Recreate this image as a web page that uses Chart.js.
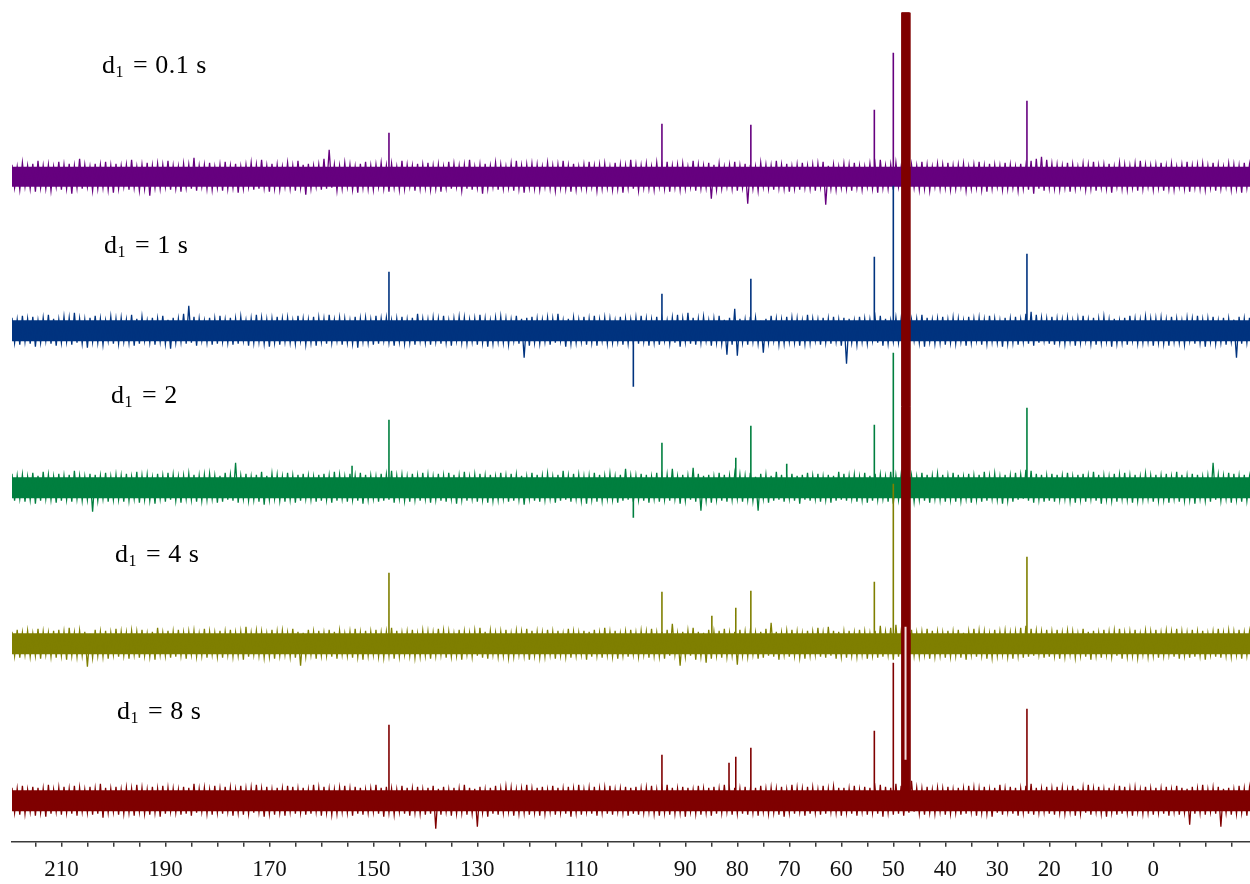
<!DOCTYPE html>
<html>
<head>
<meta charset="utf-8">
<script src="https://cdn.jsdelivr.net/npm/chart.js@4.4.1/dist/chart.umd.min.js"></script>
<style>
html, body { margin: 0; padding: 0; background: #fff; }
#wrap { width: 1250px; height: 884px; position: relative; }
</style>
</head>
<body>
<div id="wrap"><canvas id="nmrChart"></canvas></div>
<script>
// delay times written next to each trace
const delayLabels = ['0.1 s', '1 s', '2', '4 s', '8 s']

// x axis labels (ppm)
const tickLabels = [210, 190, 170, 150, 130, 110, 90, 80, 70, 60, 50, 40, 30, 20, 10, 0]

// noise traces: the trace swings between an upper and a lower extreme once per ppm, from 219.5 ppm down
const noiseStart = 219.5
// half height of the dense, solid part of the noise band
const noiseCore = [10, 10.5, 10.5, 10.5, 10.5]

const purpleUpper = [
	12,10,14,11,13,16,11,12,10,15,12,13,11,18,12,10,13,12,15,11,
	13,11,12,17,10,12,14,11,13,12,16,11,10,13,12,19,11,12,14,10,
	12,15,11,13,10,12,14,12,17,11,13,12,10,14,11,16,12,13,11,12,
	18,27,12,11,14,12,10,13,15,11,12,14,11,13,10,16,12,11,13,12,
	14,11,12,10,15,13,11,12,17,10,12,13,11,14,12,10,13,16,11,12,
	13,12,10,14,11,12,16,11,13,10,12,15,11,12,13,10,14,12,11,17,
	12,11,13,10,14,12,15,11,12,13,10,16,12,11,14,12,13,10,12,15,
	11,13,12,10,14,12,11,16,12,13,10,12,14,11,12,13,15,11,12,10,
	13,12,14,11,10,13,12,17,11,12,14,10,13,12,11,15,12,10,13,12,
	14,11,12,13,10,12,15,11,13,12,11,14,12,10,13,11,16,18,20,17,
	13,12,11,14,12,10,13,12,15,11,12,13,10,14,12,11,13,16,12,11,
	12,14,11,13,10,12,15,11,12,13,11,14,12,10,13,12,11,14,12,13]
const purpleLower = [
	-11,-13,-10,-12,-15,-11,-12,-14,-10,-13,-12,-17,-11,-12,-10,-14,-12,-11,-13,-16,
	-12,-10,-13,-11,-14,-12,-19,-11,-12,-10,-13,-12,-15,-11,-12,-14,-10,-12,-13,-11,
	-14,-12,-11,-16,-12,-10,-13,-12,-11,-15,-12,-13,-10,-12,-14,-11,-18,-12,-10,-13,
	-12,-11,-14,-12,-10,-13,-16,-11,-12,-13,-10,-12,-15,-11,-13,-12,-10,-14,-12,-11,
	-13,-12,-15,-11,-12,-10,-14,-12,-13,-11,-17,-12,-10,-13,-12,-11,-14,-12,-16,-11,
	-12,-13,-10,-12,-14,-11,-12,-15,-13,-11,-12,-10,-14,-12,-11,-13,-12,-16,-11,-12,
	-14,-11,-12,-13,-10,-12,-15,-11,-13,-12,-10,-14,-12,-11,-22,-13,-12,-10,-12,-14,
	-11,-27,-12,-14,-10,-12,-13,-11,-12,-15,-12,-13,-11,-12,-14,-10,-28,-12,-13,-11,
	-12,-14,-11,-13,-10,-12,-16,-11,-12,-13,-10,-12,-15,-11,-13,-12,-14,-10,-12,-11,
	-13,-12,-10,-14,-12,-11,-13,-15,-12,-10,-13,-12,-11,-14,-12,-13,-17,-12,-14,-11,
	-12,-13,-11,-15,-12,-10,-13,-12,-14,-11,-12,-16,-10,-12,-13,-11,-14,-12,-10,-13,
	-11,-14,-12,-13,-10,-12,-15,-11,-12,-13,-11,-14,-12,-10,-13,-12,-16,-11,-12,-13]

const blueUpper = [
	13,11,15,12,14,10,13,16,12,11,14,13,18,12,11,13,15,12,10,14,
	12,13,11,16,12,14,10,13,12,15,11,13,12,17,25,14,12,10,13,12,
	15,11,13,12,14,10,12,16,13,11,12,14,12,13,10,15,12,11,14,13,
	12,16,11,13,12,10,14,12,13,11,15,12,13,10,12,14,11,13,17,12,
	11,13,12,15,10,12,14,13,11,12,16,12,10,13,14,12,11,15,12,13,
	14,12,11,13,12,17,10,12,13,11,14,12,15,11,13,12,10,14,12,11,
	13,15,12,11,14,12,10,13,16,12,18,13,12,14,10,12,15,11,13,22,
	12,11,14,13,10,12,15,12,11,14,13,12,10,16,12,11,13,12,14,11,
	13,12,10,14,12,11,13,15,12,10,13,12,14,11,12,16,13,11,12,14,
	11,13,12,10,14,12,13,11,15,12,10,13,12,14,11,17,19,16,13,12,
	14,12,11,13,10,12,15,11,13,12,14,11,12,10,13,15,12,11,14,12,
	12,13,11,14,12,10,13,12,15,11,12,14,10,13,12,11,14,12,13,11]
const blueLower = [
	-12,-14,-11,-13,-16,-12,-10,-13,-15,-12,-11,-14,-12,-13,-17,-11,-12,-14,-10,-13,
	-13,-11,-12,-15,-13,-10,-12,-14,-11,-13,-18,-12,-11,-13,-12,-15,-10,-12,-14,-13,
	-11,-12,-14,-13,-10,-15,-12,-11,-13,-16,-12,-14,-11,-12,-13,-10,-14,-12,-15,-11,
	-13,-12,-10,-14,-12,-13,-17,-11,-12,-14,-13,-10,-12,-15,-11,-13,-12,-14,-10,-12,
	-14,-11,-13,-12,-15,-10,-12,-13,-11,-14,-12,-16,-13,-11,-12,-14,-10,-13,-27,-15,
	-12,-13,-11,-14,-12,-10,-16,-13,-12,-11,-14,-12,-15,-10,-13,-12,-11,-14,-13,-12,
	-13,-11,-15,-12,-14,-10,-13,-12,-16,-11,-13,-14,-12,-10,-15,-12,-13,-24,-14,-25,
	-12,-14,-11,-13,-22,-12,-10,-14,-13,-11,-12,-15,-13,-12,-10,-14,-12,-13,-11,-15,
	-33,-12,-14,-11,-13,-10,-12,-15,-13,-11,-12,-14,-13,-10,-12,-16,-11,-13,-12,-14,
	-12,-13,-11,-15,-12,-10,-14,-13,-11,-12,-16,-13,-12,-14,-11,-13,-15,-12,-10,-13,
	-14,-12,-13,-11,-15,-12,-10,-13,-14,-12,-11,-16,-13,-12,-14,-10,-13,-12,-11,-15,
	-12,-13,-15,-11,-12,-14,-10,-13,-12,-16,-11,-13,-12,-14,-11,-27,-13,-12,-14,-12]

const greenUpper = [
	14,12,13,11,15,12,16,13,11,14,12,13,17,12,11,14,13,12,15,11,
	13,12,14,11,16,12,13,10,14,12,15,13,11,12,14,13,12,13,14,12,
	12,15,13,25,12,14,11,13,16,12,14,13,11,15,12,13,14,12,11,13,
	14,12,16,13,11,14,12,15,13,12,11,14,13,17,12,13,11,14,12,15,
	13,11,14,12,15,13,12,16,11,13,14,12,13,11,15,12,14,13,12,11,
	15,13,12,14,11,13,17,12,14,13,11,12,15,13,12,14,11,13,19,12,
	12,14,13,11,15,12,13,19,11,13,12,20,14,12,13,11,15,13,12,14,
	13,12,15,11,14,13,12,16,13,11,14,12,13,15,12,14,11,13,12,16,
	14,12,13,11,15,12,14,13,11,16,12,13,14,12,11,15,13,12,14,13,
	12,15,13,11,14,12,13,16,12,14,11,13,12,15,13,18,17,14,13,12,
	14,13,12,15,11,13,14,12,16,13,12,11,14,13,15,12,13,11,14,12,
	13,12,14,11,16,13,12,14,13,11,12,25,13,12,15,14,12,13,11,14]
const greenLower = [
	-13,-11,-14,-12,-16,-13,-11,-12,-15,-13,-12,-14,-11,-13,-12,-24,-13,-11,-14,-12,
	-12,-14,-13,-11,-15,-12,-13,-16,-11,-14,-12,-13,-15,-11,-12,-14,-13,-12,-11,-15,
	-14,-12,-13,-15,-11,-13,-12,-14,-17,-12,-11,-13,-14,-12,-15,-13,-11,-12,-14,-13,
	-12,-15,-13,-11,-14,-12,-13,-16,-12,-11,-14,-13,-12,-15,-11,-13,-14,-12,-13,-11,
	-15,-12,-13,-14,-11,-16,-12,-13,-11,-14,-12,-15,-13,-12,-11,-14,-13,-12,-17,-11,
	-13,-14,-12,-11,-15,-13,-12,-14,-11,-13,-16,-12,-14,-13,-11,-12,-15,-13,-12,-14,
	-12,-13,-15,-11,-14,-12,-13,-11,-16,-13,-12,-14,-23,-13,-15,-12,-13,-14,-12,-11,
	-14,-12,-13,-23,-11,-15,-13,-12,-14,-11,-13,-16,-12,-13,-11,-14,-12,-15,-13,-12,
	-13,-11,-14,-12,-15,-13,-12,-11,-14,-16,-12,-13,-11,-14,-12,-13,-15,-11,-12,-14,
	-12,-14,-13,-11,-15,-12,-14,-13,-11,-12,-16,-13,-14,-12,-11,-13,-15,-12,-14,-13,
	-14,-12,-11,-13,-15,-12,-14,-11,-13,-16,-12,-13,-14,-11,-12,-15,-13,-12,-11,-14,
	-13,-12,-15,-11,-14,-13,-12,-16,-11,-13,-14,-12,-13,-11,-15,-12,-14,-13,-12,-11]

const oliveUpper = [
	12,14,11,13,10,15,12,11,13,14,12,16,11,13,12,10,14,12,13,11,
	15,12,11,13,12,14,10,12,16,11,13,12,14,11,12,13,10,15,12,11,
	13,12,14,11,12,17,11,13,12,10,14,12,13,11,15,12,11,14,12,13,
	11,14,12,13,10,12,15,11,13,12,14,11,12,16,13,11,12,14,10,13,
	12,11,15,13,12,10,14,12,11,13,16,12,13,11,12,14,10,13,12,15,
	13,12,11,14,12,13,10,15,12,11,13,12,14,11,16,12,13,10,12,14,
	11,13,12,15,11,12,14,20,10,12,13,16,12,11,14,12,13,15,11,12,
	14,12,13,11,12,15,21,12,11,13,14,12,10,13,12,16,11,17,13,12,
	12,13,11,14,12,10,13,18,12,16,19,12,13,14,11,12,15,13,12,11,
	13,12,14,11,12,15,13,12,10,14,12,13,11,12,16,18,15,13,12,14,
	12,14,11,13,12,10,15,12,13,11,14,12,13,15,11,12,14,10,13,12,
	14,11,13,12,15,12,11,14,12,13,10,12,15,11,13,12,14,11,12,13]
const oliveLower = [
	-12,-14,-11,-13,-12,-15,-11,-13,-14,-12,-16,-12,-13,-12,-23,-14,-12,-13,-15,-11,
	-13,-12,-15,-11,-14,-12,-13,-16,-11,-12,-14,-13,-12,-15,-11,-13,-12,-14,-11,-13,
	-14,-11,-13,-12,-16,-13,-11,-12,-14,-13,-15,-12,-11,-13,-14,-22,-13,-11,-15,-12,
	-12,-13,-15,-11,-12,-14,-13,-16,-12,-11,-13,-14,-12,-15,-13,-11,-12,-14,-13,-12,
	-15,-12,-11,-14,-13,-12,-16,-11,-13,-12,-14,-15,-11,-13,-12,-14,-13,-11,-12,-16,
	-12,-14,-13,-11,-15,-12,-13,-14,-12,-11,-16,-13,-12,-14,-11,-13,-15,-12,-13,-11,
	-13,-11,-14,-12,-13,-15,-12,-11,-22,-13,-12,-16,-13,-19,-15,-12,-14,-13,-12,-21,
	-12,-13,-11,-15,-14,-12,-13,-16,-11,-13,-12,-14,-15,-12,-11,-13,-14,-12,-15,-13,
	-14,-12,-13,-11,-15,-12,-14,-13,-11,-16,-13,-12,-14,-12,-13,-11,-15,-13,-12,-14,
	-13,-12,-14,-16,-11,-13,-12,-15,-14,-12,-11,-13,-15,-12,-14,-13,-12,-11,-14,-13,
	-12,-15,-13,-11,-14,-12,-13,-16,-12,-14,-11,-13,-12,-15,-13,-12,-14,-11,-13,-12,
	-14,-12,-11,-13,-15,-12,-14,-13,-12,-16,-11,-13,-14,-12,-13,-11,-15,-12,-13,-14]

const redUpper = [
	13,12,15,11,14,13,12,16,11,13,14,12,15,13,11,14,12,17,13,12,
	14,11,13,12,16,13,11,14,12,15,13,12,11,14,13,17,12,13,11,15,
	12,14,13,11,15,12,13,16,12,14,11,13,12,15,14,12,13,11,16,13,
	14,12,11,13,15,12,14,13,11,12,16,13,14,12,11,15,13,12,14,11,
	13,15,12,14,11,13,12,16,13,12,14,11,13,15,12,14,13,11,12,16,
	12,13,14,11,15,13,12,14,12,16,11,13,14,12,13,15,11,12,14,13,
	14,12,13,15,11,12,16,13,12,14,13,11,15,12,13,14,12,16,11,13,
	12,14,11,13,15,12,13,12,14,11,16,13,12,14,13,11,15,12,14,13,
	13,12,15,11,14,13,12,16,14,13,17,15,12,20,13,12,14,11,13,12,
	14,11,13,12,15,13,12,14,11,13,16,12,14,13,12,15,17,13,12,14,
	12,14,13,11,15,12,13,16,12,14,11,13,12,15,14,12,13,11,14,12,
	13,12,14,11,15,13,12,14,12,16,11,13,14,12,13,11,15,12,13,14]
const redLower = [
	-12,-14,-13,-11,-15,-12,-16,-13,-11,-14,-12,-13,-15,-11,-12,-14,-13,-17,-12,-11,
	-14,-13,-12,-15,-11,-13,-14,-12,-16,-13,-11,-12,-14,-13,-15,-12,-11,-13,-14,-12,
	-13,-11,-15,-12,-14,-13,-12,-11,-16,-13,-14,-12,-15,-11,-13,-12,-14,-13,-11,-15,
	-12,-14,-13,-11,-12,-15,-13,-14,-12,-11,-13,-16,-12,-14,-11,-13,-15,-12,-13,-14,
	-13,-28,-14,-11,-15,-13,-12,-14,-13,-26,-12,-16,-13,-14,-12,-11,-15,-13,-12,-14,
	-12,-15,-13,-11,-14,-12,-13,-16,-12,-14,-11,-13,-15,-12,-13,-14,-11,-12,-15,-13,
	-14,-12,-11,-13,-15,-12,-14,-13,-12,-16,-11,-13,-14,-12,-15,-13,-12,-11,-14,-13,
	-13,-14,-12,-15,-11,-13,-12,-14,-16,-12,-13,-11,-15,-13,-12,-14,-13,-11,-12,-15,
	-12,-13,-15,-11,-14,-12,-13,-16,-12,-14,-13,-15,-12,-11,-13,-14,-12,-13,-11,-14,
	-13,-12,-14,-13,-11,-15,-12,-13,-16,-12,-14,-11,-13,-15,-12,-13,-14,-12,-11,-13,
	-14,-12,-13,-11,-15,-13,-12,-14,-11,-13,-16,-12,-14,-13,-12,-15,-11,-13,-12,-14,
	-12,-13,-15,-11,-14,-12,-24,-13,-12,-14,-11,-13,-26,-12,-14,-13,-12,-15,-11,-13]

// signals: chemical shift (ppm) and height above the trace baseline
const purplePeakPpm = [147.0, 94.5, 77.4, 53.65, 50.0, 24.3]
const purplePeakHeight = [44, 53, 52, 67, 124, 76]
const bluePeakPpm = [147.0, 100.0, 94.5, 77.4, 53.65, 50.0, 24.3]
const bluePeakHeight = [59, -56, 37, 52, 74, 145, 77]
const greenPeakPpm = [154.1, 147.0, 100.0, 94.5, 80.3, 77.4, 70.5, 53.65, 50.0, 24.3]
const greenPeakHeight = [22, 68, -30, 45, 30, 62, 24, 63, 135, 80]
const olivePeakPpm = [147.0, 94.5, 84.9, 80.3, 77.4, 53.65, 50.0, 24.3]
const olivePeakHeight = [71, 52, 28, 36, 53, 62, 160, 87]
const redPeakPpm = [147.0, 94.5, 81.6, 80.3, 77.4, 53.65, 50.0, 24.3]
const redPeakHeight = [76, 46, 38, 44, 53, 70, 138, 92]

// solvent signal of the last trace (off scale)
const solventPpm = [48.5, 48.4, 46.9, 46.8]
const solventHeight = [0, 788, 788, 0]
const solventSplitPpm = 47.65
const solventSplitHeight = [41, 174]

const spectra = [
	{ color: '#66007f', stack: 665, upper: purpleUpper, lower: purpleLower, ppm: purplePeakPpm, height: purplePeakHeight },
	{ color: '#00337f', stack: 511, upper: blueUpper, lower: blueLower, ppm: bluePeakPpm, height: bluePeakHeight },
	{ color: '#007f3f', stack: 354, upper: greenUpper, lower: greenLower, ppm: greenPeakPpm, height: greenPeakHeight },
	{ color: '#7f7f00', stack: 198, upper: oliveUpper, lower: oliveLower, ppm: olivePeakPpm, height: olivePeakHeight },
	{ color: '#7f0000', stack: 41, upper: redUpper, lower: redLower, ppm: redPeakPpm, height: redPeakHeight }
]

// where the delay labels sit (x of "d", text baseline)
const labelPos = [[102, 73], [104, 253], [111, 403], [115, 562], [117, 719]]

// noise trace: upper extreme, then lower extreme half a ppm further
function trace(up, low, off) {
	const pts = []
	up.forEach((v, i) => {
		pts.push({ x: noiseStart - i, y: off + v }, { x: noiseStart - i - 0.5, y: off + low[i] })
	})
	return pts
}

function band(core, off) {
	const ends = [noiseStart, noiseStart - purpleUpper.length]
	return [ends.map(x => ({ x: x, y: off + core })), ends.map(x => ({ x: x, y: off - core }))]
}

function sticks(ppm, h, off) {
	const pts = []
	ppm.forEach((p, i) => {
		pts.push({ x: p, y: off }, { x: p, y: off + h[i] }, { x: p, y: null })
	})
	return pts
}

const datasets = []
// last trace first so it is drawn on top
spectra.map((s, n) => [s, n]).reverse().forEach(([s, n], k) => {
	if (k === 0) {
		datasets.push({
			data: solventSplitHeight.map(h => ({ x: solventSplitPpm, y: s.stack + h })),
			borderColor: '#f4dede', borderWidth: 2
		})
		datasets.push({
			data: solventPpm.map((p, i) => ({ x: p, y: s.stack + solventHeight[i] })),
			borderColor: s.color, backgroundColor: s.color, borderWidth: 1,
			fill: { value: s.stack }
		})
	}
	datasets.push({ data: sticks(s.ppm, s.height, s.stack), borderColor: s.color, borderWidth: 1.6 })
	datasets.push({ data: trace(s.upper, s.lower, s.stack), borderColor: s.color, borderWidth: 1.3 })
	const [top, bottom] = band(noiseCore[n], s.stack)
	datasets.push({ data: top, borderColor: s.color, borderWidth: 0 })
	datasets.push({ data: bottom, borderColor: s.color, borderWidth: 0, backgroundColor: s.color, fill: '-1' })
})

const tickMarks = []
for (let v = 215; v >= -15; v -= 5) tickMarks.push(v)

const labelPlugin = {
	id: 'delayLabels',
	afterDraw(chart) {
		const ctx = chart.ctx
		ctx.save()
		ctx.fillStyle = '#000'
		ctx.textBaseline = 'alphabetic'
		delayLabels.forEach((txt, i) => {
			const [x, y] = labelPos[i]
			ctx.letterSpacing = '0px'
			ctx.font = '26px "Liberation Serif"'
			ctx.fillText('d', x, y)
			ctx.font = '16px "Liberation Serif"'
			ctx.fillText('1', x + 13.5, y + 4)
			ctx.font = '26px "Liberation Serif"'
			ctx.letterSpacing = '0.5px'
			ctx.fillText('= ' + txt, x + 31, y)
		})
		ctx.restore()
	}
}

Chart.defaults.font.family = '"Liberation Serif", "Times New Roman", serif'

new Chart(document.getElementById('nmrChart'), {
	type: 'line',
	data: { datasets: datasets },
	plugins: [labelPlugin],
	options: {
		responsive: true,
		maintainAspectRatio: false,
		animation: false,
		elements: { point: { radius: 0 }, line: { tension: 0, fill: false } },
		layout: { padding: { left: 12, right: 0, top: 0, bottom: -9.3 } },
		plugins: { legend: { display: false }, tooltip: { enabled: false } },
		scales: {
			x: {
				type: 'linear',
				reverse: true,
				min: -18.6,
				max: 219.5,
				offset: false,
				afterBuildTicks: (scale) => { scale.ticks = tickMarks.map(v => ({ value: v })) },
				border: { display: true, color: '#3a3a3a', width: 1.5 },
				grid: { display: true, drawOnChartArea: false, drawTicks: true, tickLength: 5, color: '#3a3a3a', lineWidth: 1.5 },
				ticks: {
					autoSkip: false,
					maxRotation: 0,
					padding: 9.5,
					color: '#111',
					font: { size: 23 },
					callback: (v) => tickLabels.includes(v) ? String(v) : ''
				}
			},
			y: { display: false, min: 0, max: 841.7 }
		}
	}
})
</script>
</body>
</html>
